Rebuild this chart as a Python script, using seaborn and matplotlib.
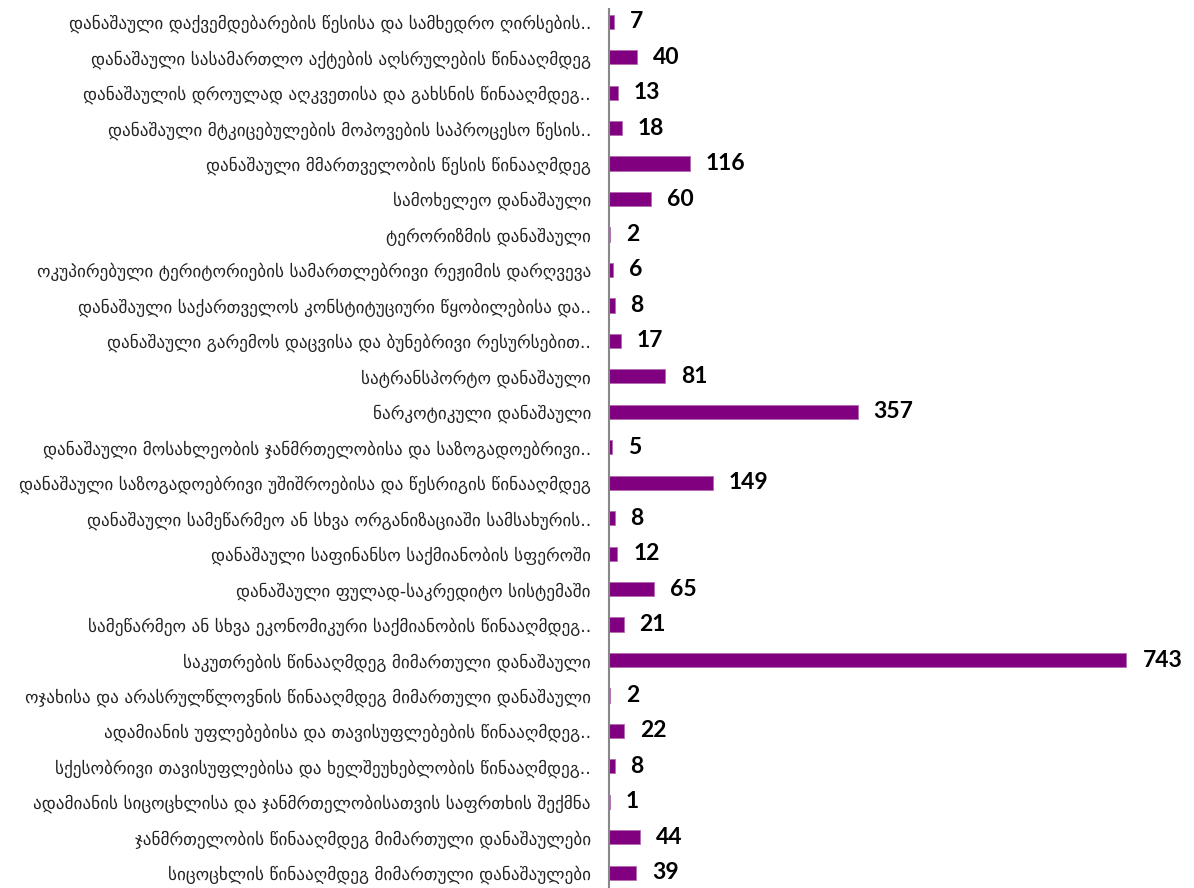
import matplotlib
matplotlib.use("Agg")
import matplotlib.pyplot as plt
import seaborn as sns
import pandas as pd

categories = [
    "დანაშაული დაქვემდებარების წესისა და სამხედრო ღირსების..",
    "დანაშაული სასამართლო აქტების აღსრულების წინააღმდეგ",
    "დანაშაულის დროულად აღკვეთისა და გახსნის წინააღმდეგ..",
    "დანაშაული მტკიცებულების მოპოვების საპროცესო წესის..",
    "დანაშაული მმართველობის წესის წინააღმდეგ",
    "სამოხელეო დანაშაული",
    "ტერორიზმის დანაშაული",
    "ოკუპირებული ტერიტორიების სამართლებრივი რეჟიმის დარღვევა",
    "დანაშაული საქართველოს კონსტიტუციური წყობილებისა და..",
    "დანაშაული გარემოს დაცვისა და ბუნებრივი რესურსებით..",
    "სატრანსპორტო დანაშაული",
    "ნარკოტიკული დანაშაული",
    "დანაშაული მოსახლეობის ჯანმრთელობისა და საზოგადოებრივი..",
    "დანაშაული საზოგადოებრივი უშიშროებისა და წესრიგის წინააღმდეგ",
    "დანაშაული სამეწარმეო ან სხვა ორგანიზაციაში სამსახურის..",
    "დანაშაული საფინანსო საქმიანობის სფეროში",
    "დანაშაული ფულად-საკრედიტო სისტემაში",
    "სამეწარმეო ან სხვა ეკონომიკური საქმიანობის წინააღმდეგ..",
    "საკუთრების წინააღმდეგ მიმართული დანაშაული",
    "ოჯახისა და არასრულწლოვნის წინააღმდეგ მიმართული დანაშაული",
    "ადამიანის უფლებებისა და თავისუფლებების წინააღმდეგ..",
    "სქესობრივი თავისუფლებისა და ხელშეუხებლობის წინააღმდეგ..",
    "ადამიანის სიცოცხლისა და ჯანმრთელობისათვის საფრთხის შექმნა",
    "ჯანმრთელობის წინააღმდეგ მიმართული დანაშაულები",
    "სიცოცხლის წინააღმდეგ მიმართული დანაშაულები",
]
values = [7, 40, 13, 18, 116, 60, 2, 6, 8, 17, 81, 357, 5, 149, 8, 12, 65, 21,
          743, 2, 22, 8, 1, 44, 39]

df = pd.DataFrame({"category": categories, "value": values})

sns.set_theme(style="white")
plt.rcParams["font.family"] = ["DejaVu Sans"]

fig = plt.figure(figsize=(11.94, 8.88), dpi=100)
ax = fig.add_axes([609 / 1194, -2.5 / 888, 585 / 1194, 886.5 / 888])

sns.barplot(data=df, y="category", x="value", orient="h", color="#800080",
            saturation=1, width=0.4, ax=ax, edgecolor="#b36bb3", linewidth=0.6)

ax.set_xlim(0, 840)
ax.set_ylim(len(categories) - 0.5, -0.5)
ax.set_xlabel("")
ax.set_ylabel("")
ax.set_xticks([])
for s in ["top", "right", "bottom"]:
    ax.spines[s].set_visible(False)
ax.spines["left"].set_color("#888888")
ax.spines["left"].set_linewidth(1.5)
ax.spines["left"].set_bounds(len(categories) - 0.5, -0.35)
ax.tick_params(axis="y", length=0, pad=13, labelsize=12.3, labelcolor="#222222")

for i, v in enumerate(values):
    ax.annotate(str(v), xy=(v, i), xytext=(11.5, 0), textcoords="offset points",
                ha="left", va="center", fontsize=16.5, fontweight="bold",
                family=["Lato", "DejaVu Sans"], color="black")

fig.savefig("out.png", dpi=100)
